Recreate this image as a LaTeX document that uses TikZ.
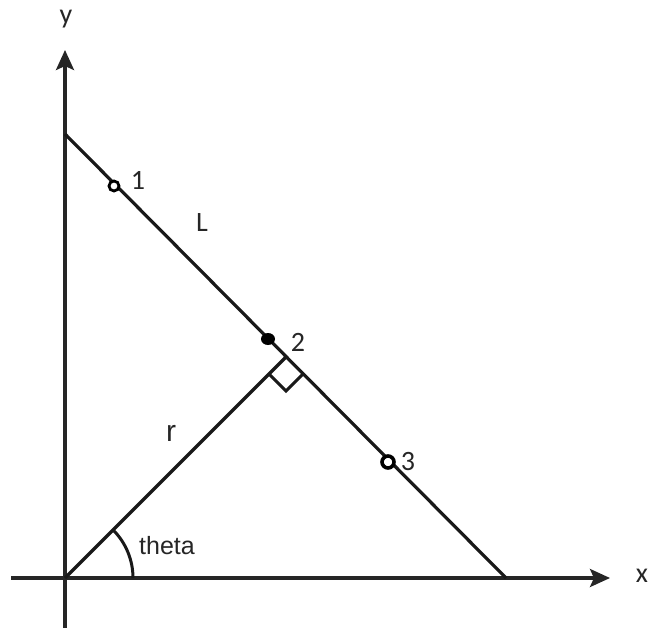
\documentclass[tikz,border=0pt]{standalone}
\usepackage{fontspec}
\setmainfont{Liberation Sans}
\newfontfamily\labfont{Carlito}
\usetikzlibrary{arrows.meta,calc,shapes.geometric}
\begin{document}
\begin{tikzpicture}[x=1pt,y=-1pt,
  line/.style={line width=3.2pt,black!90},
  axis/.style={line width=3.4pt,black!85,-{Stealth[length=20pt,width=18pt,inset=4pt]}},
  lab/.style={font=\labfont\fontsize{28}{28}\selectfont,text=black!85,inner sep=0pt},
  arial/.style={font=\fontsize{25}{25}\selectfont,text=black!85,inner sep=0pt},
  ring/.style={circle,draw=black,line width=2.8pt,fill=white,inner sep=0pt,minimum size=10pt}]
\useasboundingbox (0,0) rectangle (650,628);
% axes
\coordinate (O) at (65,578);
\coordinate (ybot) at (65,628);
\coordinate (ytop) at (65,50);
\coordinate (xleft) at (11,578);
\coordinate (xright) at (610,578);
\draw[axis] (ybot) -- (ytop);
\draw[axis] (xleft) -- (xright);
\node[lab] (ylab) at (66,19) {y};
\node[lab] (xlab) at (642,576) {x};
% line L
\coordinate (A) at (65,134);
\coordinate (B) at (506,578);
\draw[line] (A) -- (B);
% perpendicular r
\coordinate (F) at (286,357);
\draw[line] (O) -- (F);
% right angle marker
\coordinate (RA1) at ($(F)!24pt!(O)$);
\coordinate (RA2) at ($(F)!24pt!(B)$);
\draw[line,line width=3pt] (RA1) -- ($(RA1)+(RA2)-(F)$) -- (RA2);
% theta arc
\draw[line,line width=3pt] (133,578) arc[start angle=0,end angle=-45,radius=68];
\node[arial] (theta) at (167,546) {theta};
\node[arial,font=\fontsize{30}{30}\selectfont] (r) at (171,433) {r};
% points
\node[ring] (p1) at (114,186) {};
\node[ellipse,fill=black,inner sep=0pt,minimum width=14pt,minimum height=12pt] (p2) at (268,339) {};
\node[ring,minimum size=12pt,line width=3.6pt] (p3) at (388,462) {};
\node[lab] (l1) at (138,180) {1};
\node[lab] (l2) at (298,342) {2};
\node[lab] (l3) at (408,462) {3};
\node[lab] (lL) at (202,223) {L};
\end{tikzpicture}
\end{document}
